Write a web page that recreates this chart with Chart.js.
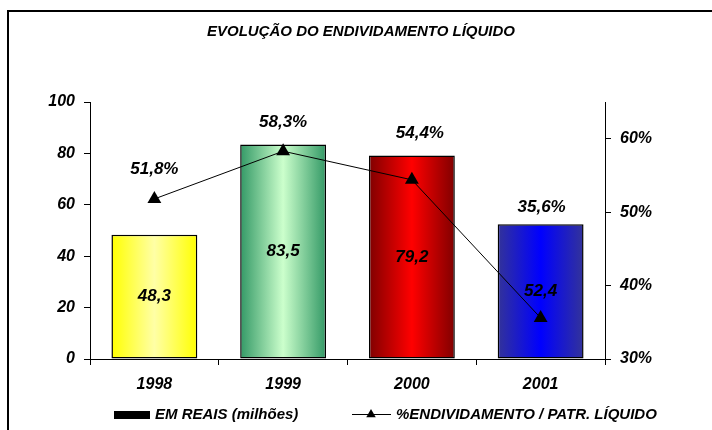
<!DOCTYPE html>
<html>
<head>
<meta charset="utf-8">
<script src="https://cdn.jsdelivr.net/npm/chart.js@4"></script>
<style>
  html, body { margin: 0; padding: 0; background: #ffffff; }
  #wrap { width: 712px; height: 430px; position: relative; }
  canvas { display: block; }
</style>
</head>
<body>
<div id="wrap"><canvas id="c" width="712" height="430"></canvas></div>
<script>
const chartTitle = 'EVOLUÇÃO DO ENDIVIDAMENTO LÍQUIDO';
const categories = ['1998', '1999', '2000', '2001'];
const valuesReais = [48.3, 83.5, 79.2, 52.4];
const valuesPct = [51.8, 58.3, 54.4, 35.6];
const leftTicks = [0, 20, 40, 60, 80, 100];
const rightTicks = [30, 40, 50, 60];
const seriesNames = ['EM REAIS (milhões)', '%ENDIVIDAMENTO / PATR. LÍQUIDO'];

// styling
const barGradients = [
  ['#FFFF00', '#FFFFA6'],
  ['#339966', '#CCFFCC'],
  ['#800000', '#FF0000'],
  ['#333399', '#0000FF']
];
const pctLabelOffsets = [[0, -30], [0, -29], [8, -47], [1, -111]];
const FONT = '"Liberation Sans", Arial, Helvetica, sans-serif';
const BAR_PCT = 0.667;

Chart.defaults.font.family = FONT;
Chart.defaults.color = '#000';

const fmt = v => v.toFixed(1).replace('.', ',');

function barFill(ctx) {
  const chart = ctx.chart;
  const xs = chart.scales.x;
  const i = ctx.dataIndex;
  const cols = barGradients[i % barGradients.length];
  if (!xs || xs.width === undefined || !isFinite(xs.width)) return cols[0];
  const cx = xs.getPixelForValue(i);
  const w = (xs.width / categories.length) * BAR_PCT;
  const g = chart.ctx.createLinearGradient(cx - w / 2, 0, cx + w / 2, 0);
  g.addColorStop(0, cols[0]);
  g.addColorStop(0.5, cols[1]);
  g.addColorStop(1, cols[0]);
  return g;
}

const framePlugin = {
  id: 'frame',
  beforeDraw(chart) {
    const c = chart.ctx;
    c.save();
    c.fillStyle = '#fff';
    c.fillRect(0, 0, chart.width, chart.height);
    c.strokeStyle = '#000';
    c.lineWidth = 2;
    c.strokeRect(8, 11, chart.width + 20, chart.height + 20);
    c.restore();
  }
};

const labelsPlugin = {
  id: 'valueLabels',
  afterDatasetsDraw(chart) {
    const c = chart.ctx;
    c.save();
    c.fillStyle = '#000';
    c.font = 'italic bold 17px ' + FONT;
    c.textAlign = 'center';
    c.textBaseline = 'middle';
    const barMeta = chart.getDatasetMeta(0);
    barMeta.data.forEach((el, i) => {
      const y = (el.y + el.base) / 2;
      c.fillText(fmt(valuesReais[i]), el.x, y);
    });
    const lineMeta = chart.getDatasetMeta(1);
    lineMeta.data.forEach((el, i) => {
      const off = pctLabelOffsets[i] || [0, -30];
      c.fillText(fmt(valuesPct[i]) + '%', el.x + off[0], el.y + off[1]);
    });
    c.restore();
  }
};

const legendPlugin = {
  id: 'customLegend',
  afterDraw(chart) {
    const c = chart.ctx;
    const y = 414.5;
    c.save();
    c.fillStyle = '#000';
    c.fillRect(114, 411, 36, 8);
    c.font = 'italic bold 15px ' + FONT;
    c.textAlign = 'left';
    c.textBaseline = 'middle';
    c.fillText(chart.data.datasets[0].label, 155, y);
    c.strokeStyle = '#000';
    c.lineWidth = 1;
    c.beginPath();
    c.moveTo(352, y);
    c.lineTo(391, y);
    c.stroke();
    const r = 5.5, tx = 371, ty = y;
    c.beginPath();
    c.moveTo(tx, ty - r);
    c.lineTo(tx + r * 0.866, ty + r / 2);
    c.lineTo(tx - r * 0.866, ty + r / 2);
    c.closePath();
    c.fill();
    c.fillText(chart.data.datasets[1].label, 396, y);
    c.restore();
  }
};

new Chart(document.getElementById('c'), {
  data: {
    labels: categories,
    datasets: [
      {
        type: 'bar',
        label: seriesNames[0],
        data: valuesReais,
        yAxisID: 'y',
        order: 2,
        backgroundColor: barFill,
        borderColor: '#000',
        borderWidth: 1.5,
        borderSkipped: false,
        barPercentage: BAR_PCT,
        categoryPercentage: 1
      },
      {
        type: 'line',
        label: seriesNames[1],
        data: valuesPct,
        yAxisID: 'y2',
        order: 1,
        borderColor: '#000',
        borderWidth: 1,
        backgroundColor: '#000',
        pointStyle: 'triangle',
        pointRadius: 8,
        pointBackgroundColor: '#000',
        pointBorderColor: '#000',
        pointBorderWidth: 0,
        tension: 0,
        fill: false
      }
    ]
  },
  options: {
    responsive: false,
    devicePixelRatio: 1,
    animation: false,
    layout: { padding: { left: 10, right: 0, top: 0, bottom: 0 } },
    plugins: {
      legend: { display: false },
      tooltip: { enabled: false },
      title: {
        display: true,
        text: chartTitle,
        color: '#000',
        font: { size: 15, weight: 'bold', style: 'italic', family: FONT, lineHeight: 1.2 },
        padding: { top: 23, bottom: 61 }
      }
    },
    scales: {
      x: {
        type: 'category',
        offset: true,
        grid: { offset: true, drawOnChartArea: false, drawTicks: true, tickLength: 6, color: '#000', lineWidth: 1 },
        border: { display: true, color: '#000', width: 1 },
        ticks: { color: '#000', padding: 10, font: { size: 16, weight: 'bold', style: 'italic', family: FONT } },
        afterFit(s) { s.height = 71; }
      },
      y: {
        position: 'left',
        min: 0,
        max: 100,
        afterBuildTicks(s) { s.ticks = leftTicks.map(v => ({ value: v })); },
        grid: { drawOnChartArea: false, drawTicks: true, tickLength: 6, color: '#000', lineWidth: 1 },
        border: { display: true, color: '#000', width: 1 },
        ticks: { color: '#000', padding: 9, font: { size: 16, weight: 'bold', style: 'italic', family: FONT }, callback: v => String(v) },
        afterFit(s) { s.width = 80; }
      },
      y2: {
        position: 'right',
        min: 30,
        max: 65,
        afterBuildTicks(s) { s.ticks = rightTicks.map(v => ({ value: v })); },
        grid: { drawOnChartArea: false, drawTicks: true, tickLength: 6, color: '#000', lineWidth: 1 },
        border: { display: true, color: '#000', width: 1 },
        ticks: { color: '#000', padding: 9, font: { size: 16, weight: 'bold', style: 'italic', family: FONT }, callback: v => v + '%' },
        afterFit(s) { s.width = 107; }
      }
    }
  },
  plugins: [framePlugin, labelsPlugin, legendPlugin]
});
</script>
</body>
</html>
